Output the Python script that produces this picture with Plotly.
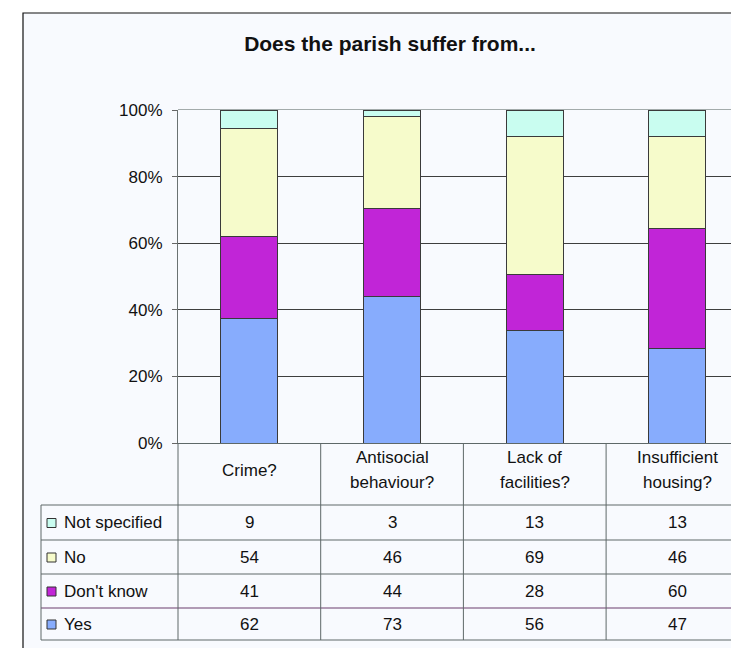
import plotly.graph_objects as go

# ---- data -------------------------------------------------------------
categories = ["Crime?", "Antisocial\nbehaviour?", "Lack of\nfacilities?", "Insufficient\nhousing?"]
series_names = ["Yes", "Don't know", "No", "Not specified"]
yes = [62, 73, 56, 47]
dont_know = [41, 44, 28, 60]
no = [54, 46, 69, 46]
not_specified = [9, 3, 13, 13]
series_values = [yes, dont_know, no, not_specified]
series_colors = ["#87ACFD", "#C125D7", "#F6FBCB", "#C9FDF0"]
y_ticks = [0, 20, 40, 60, 80, 100]
y_tick_text = [f"{v}%" for v in y_ticks]

# ---- geometry (pixels) ---------------------------------------------------
FIG_W, FIG_H = 731, 648
PLOT_L, PLOT_R, PLOT_T, PLOT_B = 178, 731, 110, 443
CAT_STEP = 142.7                      # pixels per category slot
HEADER_BOTTOM = 505
ROW_BOTTOMS = [540, 574, 608, 640]    # table rows, top to bottom
TABLE_LEFT = 41
FONT = "Liberation Sans"
LINE_COL = "#5e6868"
TXT = 17

pw, ph = PLOT_R - PLOT_L, PLOT_B - PLOT_T


def px(x):
    return (x - PLOT_L) / pw


def py(y):
    return (PLOT_B - y) / ph


x_idx = list(range(len(categories)))
x_range = [-0.5, -0.5 + pw / CAT_STEP]

fig = go.Figure()
for name, vals, col in zip(series_names, series_values, series_colors):
    fig.add_trace(go.Bar(
        x=x_idx, y=vals, name=name, width=0.4,
        marker=dict(color=col, line=dict(color="#3a3a3a", width=1)),
        showlegend=False,
    ))

shapes = []
annotations = []

# chart frame
shapes.append(dict(type="rect", xref="paper", yref="paper", layer="below",
                   x0=px(23), x1=px(760), y0=py(700), y1=py(13),
                   fillcolor="#F8FAFE", line=dict(color="#111111", width=1.2)))

# light rule along the plot area's top edge
shapes.append(dict(type="line", xref="paper", yref="paper", layer="below",
                   x0=0, x1=1.05, y0=py(PLOT_T - 0.5), y1=py(PLOT_T - 0.5),
                   line=dict(color="#A3ABAB", width=1.2)))

# table grid: horizontal lines
shapes.append(dict(type="line", xref="paper", yref="paper",
                   x0=px(TABLE_LEFT), x1=1.05, y0=py(HEADER_BOTTOM), y1=py(HEADER_BOTTOM),
                   line=dict(color=LINE_COL, width=1)))
for i, yb in enumerate(ROW_BOTTOMS):
    col = "#6a3c6c" if i == 2 else LINE_COL
    shapes.append(dict(type="line", xref="paper", yref="paper",
                       x0=px(TABLE_LEFT), x1=1.05, y0=py(yb), y1=py(yb),
                       line=dict(color=col, width=1)))
# vertical lines
shapes.append(dict(type="line", xref="paper", yref="paper",
                   x0=px(TABLE_LEFT), x1=px(TABLE_LEFT), y0=py(HEADER_BOTTOM), y1=py(ROW_BOTTOMS[-1]),
                   line=dict(color=LINE_COL, width=1)))
shapes.append(dict(type="line", xref="paper", yref="paper",
                   x0=0, x1=0, y0=0, y1=py(ROW_BOTTOMS[-1]),
                   line=dict(color=LINE_COL, width=1)))
for k in x_idx[:-1]:
    shapes.append(dict(type="line", xref="x", yref="paper",
                       x0=k + 0.5, x1=k + 0.5, y0=0, y1=py(ROW_BOTTOMS[-1]),
                       line=dict(color=LINE_COL, width=1)))

# header labels
HEADER_MID = 470
for k, label in zip(x_idx, categories):
    lines = label.split("\n")
    n = len(lines)
    for j, line in enumerate(lines):
        off = (j - (n - 1) / 2) * 25
        annotations.append(dict(xref="x", yref="paper", x=k, y=py(HEADER_MID + off),
                                text=line, showarrow=False, xanchor="center", yanchor="middle",
                                font=dict(family=FONT, size=TXT, color="#111111")))

# table rows (reverse of stacking order)
row_tops = [HEADER_BOTTOM] + ROW_BOTTOMS[:-1]
order = list(range(len(series_names)))[::-1]
for r, s in enumerate(order):
    mid = (row_tops[r] + ROW_BOTTOMS[r]) / 2
    shapes.append(dict(type="rect", xref="paper", yref="paper",
                       x0=px(47), x1=px(56), y0=py(mid + 5), y1=py(mid - 4),
                       fillcolor=series_colors[s], line=dict(color="#333333", width=1)))
    annotations.append(dict(xref="paper", yref="paper", x=px(62), y=py(mid),
                            text=series_names[s], showarrow=False, xanchor="left", yanchor="middle",
                            font=dict(family=FONT, size=TXT, color="#111111")))
    for k, v in zip(x_idx, series_values[s]):
        annotations.append(dict(xref="x", yref="paper", x=k, y=py(mid),
                                text=str(v), showarrow=False, xanchor="center", yanchor="middle",
                                font=dict(family=FONT, size=TXT, color="#111111")))

fig.update_layout(
    width=FIG_W, height=FIG_H,
    margin=dict(l=PLOT_L, r=FIG_W - PLOT_R, t=PLOT_T, b=FIG_H - PLOT_B, pad=0),
    paper_bgcolor="white", plot_bgcolor="#E9EEF5",
    barmode="stack", barnorm="percent",
    title=dict(text="<b>Does the parish suffer from...</b>", x=390 / FIG_W, xanchor="center",
               y=1 - 44 / FIG_H, yanchor="middle",
               font=dict(family=FONT, size=21, color="#111111")),
    xaxis=dict(range=x_range, showticklabels=False, ticks="", showgrid=False, zeroline=False,
               showline=True, linecolor=LINE_COL, linewidth=1, fixedrange=True),
    yaxis=dict(range=[0, 100], tickmode="array", tickvals=y_ticks, ticktext=y_tick_text,
               ticks="outside", ticklen=5,
               tickcolor="#666666", showline=True, linecolor="#6a7272", linewidth=1,
               showgrid=False, zeroline=False,
               minor=dict(tickmode="array", tickvals=y_ticks[1:-1], ticks="",
                          showgrid=True, gridcolor="#3e3e3e", gridwidth=1),
               ticklabelstandoff=6,
               tickfont=dict(family=FONT, size=17, color="#111111")),
    shapes=shapes, annotations=annotations,
    font=dict(family=FONT),
)

fig.write_html("out.html")
